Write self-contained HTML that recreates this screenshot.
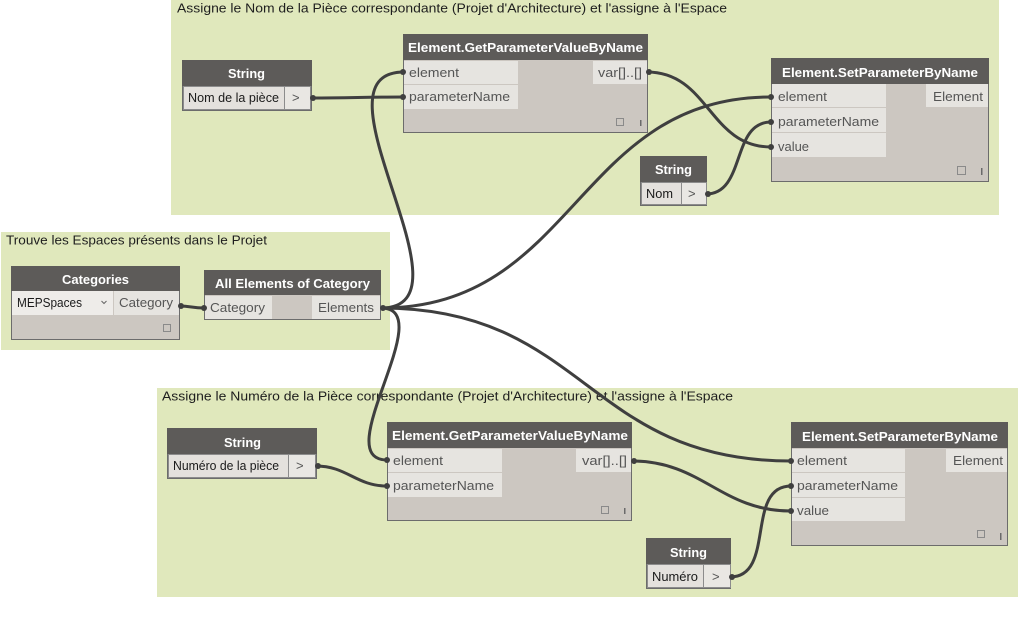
<!DOCTYPE html>
<html><head><meta charset="utf-8"><style>
html,body{margin:0;padding:0;background:#fff;}
svg{display:block;}
text{font-family:"Liberation Sans","DejaVu Sans",sans-serif;}
.g{fill:#e0e8bc;}
.gt{font-size:13px;fill:#1e1e1e;}
.nb{fill:#ccc7c1;stroke:#6c6c6c;stroke-width:1;}
.hd{fill:#5d5b59;}
.ht{font-size:13px;font-weight:bold;fill:#ffffff;}
.pr{fill:#e6e4e0;}
.pt{font-size:13px;fill:#555;}
.vt{font-size:13px;fill:#1a1a1a;}
.w{fill:none;stroke:#3f3f3f;stroke-width:3;}
.pin{fill:#3f3f3f;}
.sq{fill:none;stroke:#8a8a8a;stroke-width:1;}
.bar{fill:#6a6a6a;}
.cell{fill:#e4e1dd;stroke:#8c8c8c;stroke-width:1;}
.cell2{fill:#e9e7e3;stroke:#8c8c8c;stroke-width:1;}
</style></head><body>
<svg width="1034" height="622" viewBox="0 0 1034 622" xmlns="http://www.w3.org/2000/svg">
<rect x="0" y="0" width="1034" height="622" fill="#ffffff"/>

<!-- Groups -->
<rect class="g" x="171" y="0" width="828" height="215"/>
<text class="gt" x="177" y="12.5" textLength="550" lengthAdjust="spacingAndGlyphs">Assigne le Nom de la Pièce correspondante (Projet d'Architecture) et l'assigne à l'Espace</text>

<rect class="g" x="1" y="232" width="389" height="118"/>
<text class="gt" x="6" y="244.5" textLength="261" lengthAdjust="spacingAndGlyphs">Trouve les Espaces présents dans le Projet</text>

<rect class="g" x="157" y="388" width="861" height="209"/>
<text class="gt" x="162" y="400.5" textLength="571" lengthAdjust="spacingAndGlyphs">Assigne le Numéro de la Pièce correspondante (Projet d'Architecture) et l'assigne à l'Espace</text>

<!-- Wires -->
<path class="w" d="M311,98 C351,98 364,97 404,97"/>
<path class="w" d="M381,308 C481,308 304,72 404,72"/>
<path class="w" d="M381,308 C576,308 576,97 771,97"/>
<path class="w" d="M647,72 C709,72 709,147 771,147"/>
<path class="w" d="M706,194 C746,194 731,122 771,122"/>
<path class="w" d="M179,306 C191,306 192,308 204,308"/>
<path class="w" d="M381,308 C441,308 327,460 387,460"/>
<path class="w" d="M381,308 C586,308 586,461 791,461"/>
<path class="w" d="M316,466 C347,466 356,486 387,486"/>
<path class="w" d="M632,461 C702,461 721,511 791,511"/>
<path class="w" d="M730,577 C776,577 745,486 791,486"/>

<!-- Top String: Nom de la pièce -->
<rect class="nb" x="182.5" y="60.5" width="129" height="50"/>
<rect class="hd" x="182" y="60" width="130" height="26"/>
<text class="ht" x="228" y="78" textLength="37" lengthAdjust="spacingAndGlyphs">String</text>
<rect class="cell" x="183.5" y="86.5" width="101" height="23"/>
<rect class="cell2" x="284.5" y="86.5" width="26" height="23"/>
<text class="vt" x="188" y="102" textLength="91" lengthAdjust="spacingAndGlyphs">Nom de la pièce</text>
<text class="pt" x="292" y="102">&gt;</text>

<!-- Top GetParameterValueByName -->
<rect class="nb" x="403.5" y="34.5" width="244" height="98"/>
<rect class="hd" x="403" y="34" width="245" height="26"/>
<text class="ht" x="408" y="52" textLength="235" lengthAdjust="spacingAndGlyphs">Element.GetParameterValueByName</text>
<rect class="pr" x="404" y="61" width="114" height="23"/>
<rect class="pr" x="404" y="85" width="114" height="24"/>
<rect class="pr" x="593" y="61" width="54" height="23"/>
<text class="pt" x="409" y="77" textLength="50" lengthAdjust="spacingAndGlyphs">element</text>
<text class="pt" x="409" y="101" textLength="101" lengthAdjust="spacingAndGlyphs">parameterName</text>
<text class="pt" x="598" y="77" textLength="44" lengthAdjust="spacingAndGlyphs">var[]..[]</text>
<rect class="sq" x="616.5" y="118.5" width="7" height="7"/>
<rect class="bar" x="640" y="120" width="1.5" height="6"/>

<!-- Top SetParameterByName -->
<rect class="nb" x="771.5" y="58.5" width="217" height="123"/>
<rect class="hd" x="771" y="58" width="218" height="26"/>
<text class="ht" x="782" y="77" textLength="196" lengthAdjust="spacingAndGlyphs">Element.SetParameterByName</text>
<rect class="pr" x="772" y="84" width="114" height="23"/>
<rect class="pr" x="772" y="108" width="114" height="24"/>
<rect class="pr" x="772" y="133" width="114" height="24"/>
<rect class="pr" x="926" y="84" width="62" height="23"/>
<text class="pt" x="778" y="101" textLength="49" lengthAdjust="spacingAndGlyphs">element</text>
<text class="pt" x="778" y="126" textLength="101" lengthAdjust="spacingAndGlyphs">parameterName</text>
<text class="pt" x="778" y="151" textLength="31" lengthAdjust="spacingAndGlyphs">value</text>
<text class="pt" x="933" y="101" textLength="50" lengthAdjust="spacingAndGlyphs">Element</text>
<rect class="sq" x="957.5" y="166.5" width="8" height="8"/>
<rect class="bar" x="981" y="168" width="1.5" height="7"/>

<!-- String Nom -->
<rect class="nb" x="640.5" y="156.5" width="66" height="49"/>
<rect class="hd" x="640" y="156" width="67" height="26"/>
<text class="ht" x="655" y="174" textLength="37" lengthAdjust="spacingAndGlyphs">String</text>
<rect class="cell" x="641.5" y="182.5" width="40" height="22"/>
<rect class="cell2" x="681.5" y="182.5" width="25" height="22"/>
<text class="vt" x="646" y="198" textLength="27" lengthAdjust="spacingAndGlyphs">Nom</text>
<text class="pt" x="688" y="198">&gt;</text>

<!-- Categories -->
<rect class="nb" x="11.5" y="266.5" width="168" height="73"/>
<rect class="hd" x="11" y="266" width="169" height="25"/>
<text class="ht" x="62" y="284" textLength="67" lengthAdjust="spacingAndGlyphs">Categories</text>
<rect x="12" y="291" width="101" height="24" fill="#eeece9"/>
<rect class="pr" x="114" y="291" width="65" height="24"/>
<text class="vt" x="17" y="307" textLength="65" lengthAdjust="spacingAndGlyphs">MEPSpaces</text>
<path d="M101.5,301 L104,303.5 L106.5,301" fill="none" stroke="#666" stroke-width="1"/>
<text class="pt" x="119" y="307" textLength="54" lengthAdjust="spacingAndGlyphs">Category</text>
<rect class="sq" x="163.5" y="324.5" width="7" height="7"/>

<!-- All Elements of Category -->
<rect class="nb" x="204.5" y="270.5" width="176" height="49"/>
<rect class="hd" x="204" y="270" width="177" height="25"/>
<text class="ht" x="215" y="288" textLength="155" lengthAdjust="spacingAndGlyphs">All Elements of Category</text>
<rect class="pr" x="205" y="296" width="67" height="23"/>
<rect class="pr" x="312" y="296" width="68" height="23"/>
<text class="pt" x="210" y="312" textLength="55" lengthAdjust="spacingAndGlyphs">Category</text>
<text class="pt" x="318" y="312" textLength="56" lengthAdjust="spacingAndGlyphs">Elements</text>

<!-- Bottom String: Numéro de la pièce -->
<rect class="nb" x="167.5" y="428.5" width="149" height="50"/>
<rect class="hd" x="167" y="428" width="150" height="26"/>
<text class="ht" x="224" y="447" textLength="37" lengthAdjust="spacingAndGlyphs">String</text>
<rect class="cell" x="168.5" y="454.5" width="120" height="23"/>
<rect class="cell2" x="288.5" y="454.5" width="27" height="23"/>
<text class="vt" x="173" y="470" textLength="106" lengthAdjust="spacingAndGlyphs">Numéro de la pièce</text>
<text class="pt" x="296" y="470">&gt;</text>

<!-- Bottom GetParameterValueByName -->
<rect class="nb" x="387.5" y="422.5" width="244" height="98"/>
<rect class="hd" x="387" y="422" width="245" height="26"/>
<text class="ht" x="392" y="440" textLength="236" lengthAdjust="spacingAndGlyphs">Element.GetParameterValueByName</text>
<rect class="pr" x="388" y="449" width="114" height="23"/>
<rect class="pr" x="388" y="473" width="114" height="24"/>
<rect class="pr" x="576" y="449" width="55" height="23"/>
<text class="pt" x="393" y="465" textLength="50" lengthAdjust="spacingAndGlyphs">element</text>
<text class="pt" x="393" y="490" textLength="101" lengthAdjust="spacingAndGlyphs">parameterName</text>
<text class="pt" x="582" y="465" textLength="45" lengthAdjust="spacingAndGlyphs">var[]..[]</text>
<rect class="sq" x="601.5" y="506.5" width="7" height="7"/>
<rect class="bar" x="624" y="508" width="1.5" height="6"/>

<!-- Bottom SetParameterByName -->
<rect class="nb" x="791.5" y="422.5" width="216" height="123"/>
<rect class="hd" x="791" y="422" width="217" height="26"/>
<text class="ht" x="802" y="441" textLength="196" lengthAdjust="spacingAndGlyphs">Element.SetParameterByName</text>
<rect class="pr" x="792" y="449" width="113" height="23"/>
<rect class="pr" x="792" y="473" width="113" height="24"/>
<rect class="pr" x="792" y="498" width="113" height="23"/>
<rect class="pr" x="946" y="449" width="61" height="23"/>
<text class="pt" x="797" y="465" textLength="50" lengthAdjust="spacingAndGlyphs">element</text>
<text class="pt" x="797" y="490" textLength="101" lengthAdjust="spacingAndGlyphs">parameterName</text>
<text class="pt" x="797" y="515" textLength="32" lengthAdjust="spacingAndGlyphs">value</text>
<text class="pt" x="953" y="465" textLength="50" lengthAdjust="spacingAndGlyphs">Element</text>
<rect class="sq" x="977.5" y="530.5" width="7" height="7"/>
<rect class="bar" x="1000" y="533" width="1.5" height="7"/>

<!-- String Numéro -->
<rect class="nb" x="646.5" y="538.5" width="84" height="50"/>
<rect class="hd" x="646" y="538" width="85" height="26"/>
<text class="ht" x="670" y="557" textLength="37" lengthAdjust="spacingAndGlyphs">String</text>
<rect class="cell" x="647.5" y="564.5" width="56" height="23"/>
<rect class="cell2" x="703.5" y="564.5" width="27" height="23"/>
<text class="vt" x="652" y="581" textLength="46" lengthAdjust="spacingAndGlyphs">Numéro</text>
<text class="pt" x="712" y="581">&gt;</text>

<!-- Port pins -->
<g class="pin">
<circle cx="313" cy="98" r="3"/>
<circle cx="403" cy="97" r="3"/>
<circle cx="403" cy="72" r="3"/>
<circle cx="383" cy="308" r="3"/>
<circle cx="649" cy="72" r="3"/>
<circle cx="771" cy="97" r="3"/>
<circle cx="771" cy="122" r="3"/>
<circle cx="771" cy="147" r="3"/>
<circle cx="708" cy="194" r="3"/>
<circle cx="181" cy="306" r="3"/>
<circle cx="204" cy="308" r="3"/>
<circle cx="318" cy="466" r="3"/>
<circle cx="387" cy="460" r="3"/>
<circle cx="387" cy="486" r="3"/>
<circle cx="634" cy="461" r="3"/>
<circle cx="791" cy="461" r="3"/>
<circle cx="791" cy="486" r="3"/>
<circle cx="791" cy="511" r="3"/>
<circle cx="732" cy="577" r="3"/>
</g>
</svg>
</body></html>
